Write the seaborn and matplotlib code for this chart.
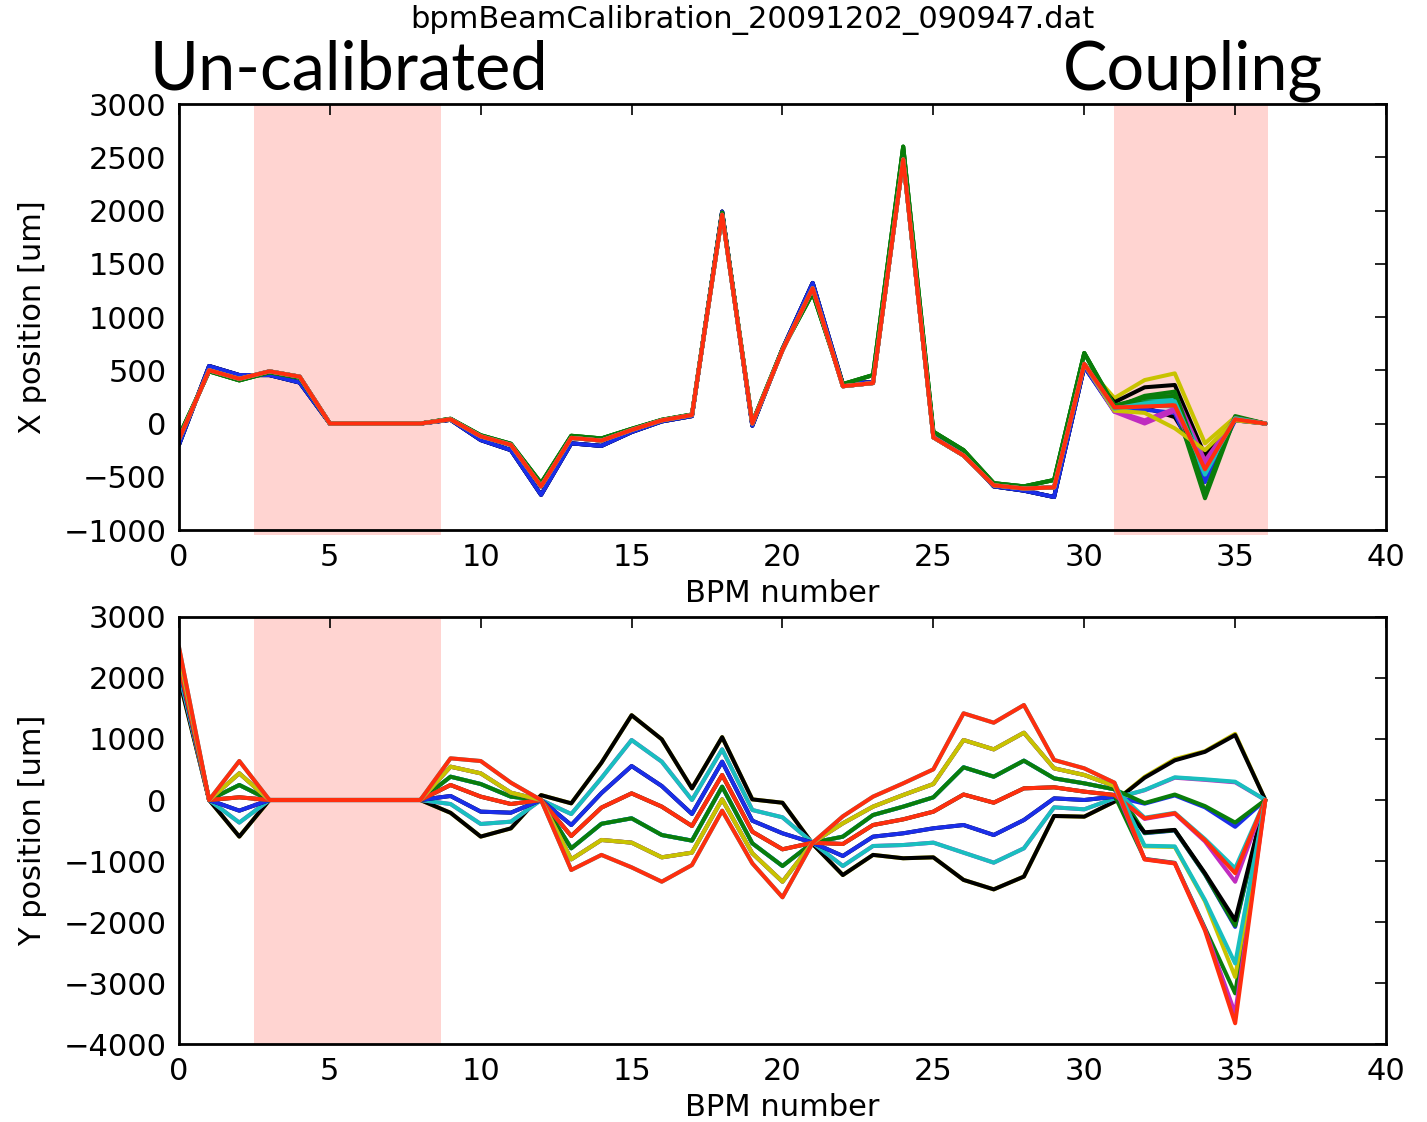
import matplotlib
matplotlib.use("Agg")
import matplotlib.pyplot as plt
import seaborn as sns
import pandas as pd
import numpy as np

# ---------------- data ----------------
bpm = list(range(37))

# Y position: seven kick levels for BPM 0..31
Y_L1 = [2000, 0, -600, 0, 0, 0, 0, 0, 0, -210, -600, -465, 80, -55, 610, 1390, 995, 190, 1030, 10, -45, -720, -1230, -900, -955, -940, -1310, -1465, -1255, -262, -273, -27]
Y_L2 = [2100, 0, -370, 0, 0, 0, 0, 0, 0, -66, -393, -355, 0, -230, 360, 983, 628, 0, 830, -164, -284, -700, -1082, -754, -738, -699, -863, -1027, -792, -120, -153, 27]
Y_L3 = [2200, 0, -175, 0, 0, 0, 0, 0, 0, 66, -191, -208, 0, -410, 113, 557, 229, -229, 628, -339, -546, -700, -918, -601, -546, -464, -410, -574, -328, 27, 0, 55]
Y_L4 = [2250, 0, 44, 0, 0, 0, 0, 0, 0, 246, 55, -66, 0, -590, -125, 109, -109, -426, 410, -519, -808, -700, -721, -410, -317, -191, 90, -44, 191, 208, 137, 82]
Y_L5 = [2300, 0, 246, 0, 0, 0, 0, 0, 0, 382, 262, 55, 0, -792, -390, -300, -574, -666, 218, -710, -1082, -700, -601, -246, -109, 44, 536, 382, 645, 355, 273, 175]
Y_L6 = [2400, 0, 437, 0, 0, 0, 0, 0, 0, 546, 437, 120, 0, -973, -655, -699, -940, -863, 11, -874, -1339, -700, -382, -109, 82, 262, 983, 830, 1103, 519, 410, 230]
Y_L7 = [2510, 0, 639, 0, 0, 0, 0, 0, 0, 683, 639, 284, 0, -1147, -900, -1104, -1339, -1066, -175, -1038, -1595, -700, -268, 55, 273, 503, 1421, 1267, 1557, 656, 519, 284]

# Y position, coupling region BPM 32..36, per line
Y_tail = {
    "y1": [380, 670, 800, 1085, 0], "k1": [365, 650, 790, 1065, 0],
    "m1": [160, 365, 330, 290, 0], "c1": [164, 372, 339, 300, 0],
    "b1": [-60, 75, -120, -440, 0], "g2": [-50, 90, -100, -370, 0],
    "m2": [-310, -225, -680, -1340, 0], "r1": [-300, -218, -660, -1200, 0], "c3": [-290, -210, -640, -1120, 0],
    "b2": [-545, -500, -1220, -2080, 0], "g3": [-540, -495, -1215, -2060, 0], "k2": [-530, -490, -1200, -1970, 0],
    "y2": [-760, -770, -1660, -2900, 0], "c2": [-750, -760, -1640, -2680, 0],
    "g1": [-965, -1030, -2100, -3170, 0], "m3": [-970, -1035, -2120, -3500, 0], "r2": [-975, -1040, -2140, -3660, 0],
}
Y_level_of = {"y1": Y_L1, "k1": Y_L1, "m1": Y_L2, "c1": Y_L2, "k2": Y_L3, "b1": Y_L3,
              "m2": Y_L4, "g1": Y_L4, "r1": Y_L4, "c3": Y_L5, "g2": Y_L5, "b2": Y_L5,
              "y2": Y_L6, "m3": Y_L6, "g3": Y_L6, "c2": Y_L7, "r2": Y_L7}

# X position for BPM 0..30 (central, lower and upper envelopes)
X_mid = [-150, 500, 420, 490, 440, 0, 0, 0, 0, 40, -120, -200, -590, -135, -160, -60, 30, 80, 1960, 0, 690, 1270, 350, 380, 2480, -130, -300, -580, -610, -600, 560]
X_low = [-200, 540, 455, 455, 385, 0, 0, 0, 0, 35, -155, -250, -670, -186, -210, -80, 20, 70, 1990, -20, 700, 1320, 370, 390, 2520, -110, -280, -590, -630, -690, 533]
X_high = [-120, 490, 405, 480, 430, 0, 0, 0, 0, 45, -110, -190, -560, -115, -140, -50, 35, 85, 1980, 10, 700, 1225, 370, 455, 2600, -77, -250, -560, -590, -530, 662]

# X position, coupling region BPM 31..36, per line
X_tail = {
    "y1": [239, 408, 471, -186, 60, 0], "k1": [200, 340, 362, -300, 40, 0],
    "m1": [150, 250, 280, -350, 50, 0], "c1": [140, 220, 240, -400, 50, 0],
    "b2": [130, 180, 200, -450, 40, 0], "g3": [150, 260, 300, -500, 50, 0],
    "k2": [120, 150, 60, -400, 30, 0], "b1": [111, 130, 100, -550, 30, 0],
    "c3": [130, 170, 160, -480, 50, 0], "g2": [160, 200, 180, -702, 60, 0],
    "m2": [110, 0, 120, -420, 40, 0], "g1": [170, 240, 260, -650, 70, 0],
    "r1": [150, 170, 190, -437, 50, 0], "m3": [120, 30, 140, -380, 40, 0],
    "y2": [120, 100, -45, -250, 30, 0], "c2": [140, 190, 210, -460, 50, 0],
    "r2": [150, 160, 170, -430, 40, 0],
}
X_base_of = {"k1": X_low, "k2": X_low, "b1": X_low, "b2": X_low,
             "g1": X_high, "g2": X_high, "g3": X_high}

draw_order = ["y1", "k1", "m1", "c1", "b2", "g3", "k2", "b1", "c3", "g2",
              "m2", "g1", "r1", "m3", "y2", "c2", "r2"]
base_colors = {"b": "#1a2ee8", "g": "#0a7d0a", "r": "#ff2e0e", "c": "#19bfbf",
               "m": "#c02cc0", "y": "#c8c300", "k": "#000000"}
palette = {name: base_colors[name[0]] for name in draw_order}

rows_x, rows_y = [], []
for name in draw_order:
    xs = X_base_of.get(name, X_mid) + X_tail[name]
    ys = Y_level_of[name] + Y_tail[name]
    for b, vx, vy in zip(bpm, xs, ys):
        rows_x.append((name, b, vx))
        rows_y.append((name, b, vy))
df_x = pd.DataFrame(rows_x, columns=["line", "bpm", "pos"])
df_y = pd.DataFrame(rows_y, columns=["line", "bpm", "pos"])

# ---------------- style ----------------
sns.set_theme(style="white")
plt.rcParams["font.family"] = ["DejaVu Sans"]
plt.rcParams["axes.unicode_minus"] = True
plt.rcParams["text.color"] = "black"
plt.rcParams["axes.labelcolor"] = "black"
plt.rcParams["xtick.color"] = "black"
plt.rcParams["ytick.color"] = "black"

fig = plt.figure(figsize=(14.27, 11.22), dpi=100)
ax1 = fig.add_axes([0.1254, 0.5276, 0.8459, 0.3797])
ax2 = fig.add_axes([0.1254, 0.0695, 0.8459, 0.3806])

pink = "#ffd4d1"
ax1.axvspan(2.5, 8.7, ymin=-0.012, ymax=1, color=pink, lw=0, zorder=0, clip_on=False)
ax1.axvspan(31.0, 36.1, ymin=-0.012, ymax=1, color=pink, lw=0, zorder=0, clip_on=False)
ax2.axvspan(2.5, 8.7, color=pink, lw=0, zorder=0)

for ax, df in ((ax1, df_x), (ax2, df_y)):
    sns.lineplot(data=df, x="bpm", y="pos", hue="line", hue_order=draw_order,
                 palette=palette, estimator=None, errorbar=None, legend=False,
                 lw=2.9, ax=ax, zorder=3)

ax1.set_xlim(0, 40)
ax1.set_ylim(-1000, 3000)
ax1.set_yticks(np.arange(-1000, 3001, 500))
ax2.set_xlim(0, 40)
ax2.set_ylim(-4000, 3000)
ax2.set_yticks(np.arange(-4000, 3001, 1000))

for ax, ylab in ((ax1, "X position [um]"), (ax2, "Y position [um]")):
    ax.set_xticks(np.arange(0, 41, 5))
    ax.set_facecolor("none")
    ax.tick_params(direction="in", length=8, width=1.2, top=True, right=True,
                   labelsize=22, colors="black", labelcolor="black", pad=9)
    for s in ax.spines.values():
        s.set_visible(True)
        s.set_color("black")
        s.set_linewidth(2.0)
        s.set_zorder(5)
    ax.set_xlabel("BPM number", fontsize=22, color="black")
    ax.set_ylabel(ylab, fontsize=22, color="black")
    ax.xaxis.set_label_coords(0.5, -0.115)
    ax.yaxis.set_label_coords(-0.109, 0.5)

fig.text(0.527, 0.982, "bpmBeamCalibration_20091202_090947.dat", ha="center", va="center",
         fontsize=22, color="black")
fig.text(0.1051, 0.9198, "Un-calibrated", ha="left", va="baseline", fontsize=48,
         color="black", family=["Lato", "DejaVu Sans"])
fig.text(0.745, 0.9198, "Coupling", ha="left", va="baseline", fontsize=48,
         color="black", family=["Lato", "DejaVu Sans"])

fig.savefig("out.png", dpi=100)
